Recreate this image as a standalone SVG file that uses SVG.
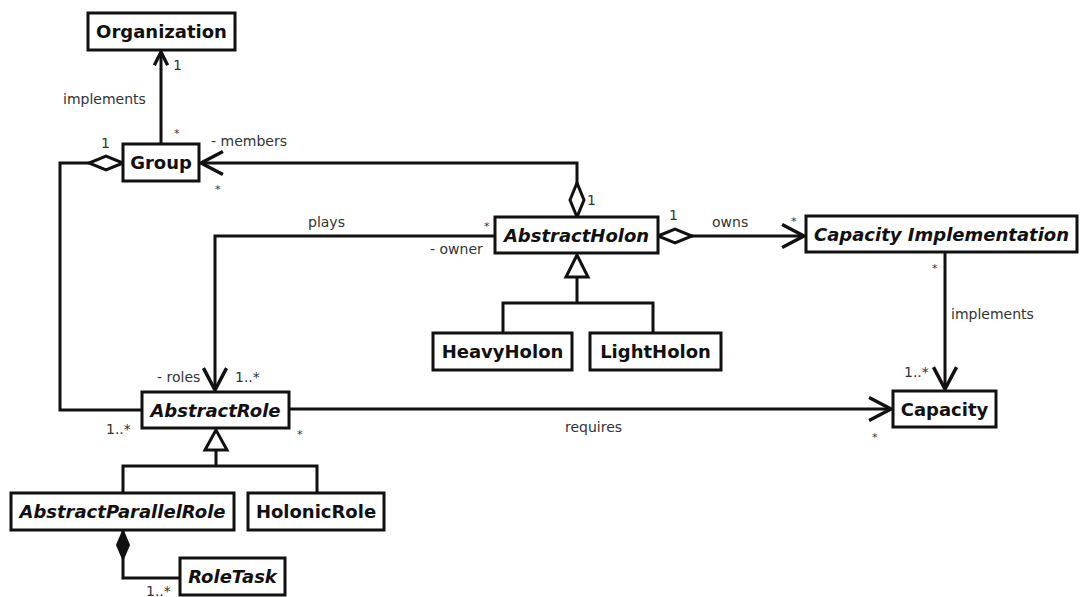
<svg xmlns="http://www.w3.org/2000/svg" width="1081" height="597" viewBox="0 0 1081 597">
<style>
.box{fill:#fff;stroke:#111;stroke-width:3}
.nm{font-family:"DejaVu Sans",sans-serif;font-size:18px;font-weight:bold;fill:#111;text-anchor:middle}
.it{font-style:italic}
.ln{fill:none;stroke:#111;stroke-width:3}
.lb{font-family:"DejaVu Sans",sans-serif;font-size:14px;fill:#333}
.st{font-family:"DejaVu Sans",sans-serif;font-size:11px;fill:#333}
.gen{fill:#fff;stroke:#111;stroke-width:3}
</style>
<defs>
<marker id="arr" markerUnits="userSpaceOnUse" markerWidth="30" markerHeight="30" refX="0" refY="0" viewBox="-22 -12 26 24" orient="auto" overflow="visible">
<path d="M-19,-10 L0,0 L-19,10" fill="none" stroke="#111" stroke-width="3"/>
</marker>
<marker id="arrs" markerUnits="userSpaceOnUse" markerWidth="20" markerHeight="20" refX="0" refY="0" viewBox="-14 -8 18 16" orient="auto" overflow="visible">
<path d="M-12,-6 L0,0 L-12,6" fill="none" stroke="#111" stroke-width="3"/>
</marker>
<marker id="dia" markerUnits="userSpaceOnUse" markerWidth="40" markerHeight="20" refX="0" refY="0" viewBox="-2 -10 40 20" orient="auto" overflow="visible">
<path d="M0,0 L17,-7 L34,0 L17,7 Z" fill="#fff" stroke="#111" stroke-width="3"/>
</marker>
<marker id="fdia" markerUnits="userSpaceOnUse" markerWidth="34" markerHeight="20" refX="0" refY="0" viewBox="-2 -10 34 20" orient="auto" overflow="visible">
<path d="M0,0 L14,-6 L28,0 L14,6 Z" fill="#111" stroke="#111" stroke-width="2"/>
</marker>
</defs>
<rect width="1081" height="597" fill="#fff"/>
<g id="connectors">
<path class="ln" d="M161,144 L161,52" marker-end="url(#arrs)"/>
<path class="ln" d="M123,163 L60,163 L60,410 L142,410" marker-start="url(#dia)"/>
<path class="ln" d="M577,217 L577,163 L201,163" marker-start="url(#dia)" marker-end="url(#arr)"/>
<path class="ln" d="M495,236 L215,236 L215,390" marker-end="url(#arr)"/>
<path class="ln" d="M658,236 L804,236" marker-start="url(#dia)" marker-end="url(#arr)"/>
<path class="ln" d="M945,252 L945,389" marker-end="url(#arr)"/>
<path class="ln" d="M289,409 L891,409" marker-end="url(#arr)"/>
<path class="ln" d="M577,277 L577,303 M503,333 L503,303 L653,303 L653,333"/>
<polygon class="gen" points="577,255 566,277 588,277"/>
<path class="ln" d="M216,450 L216,466 M123,493 L123,466 L317,466 L317,493"/>
<polygon class="gen" points="216,430 205,450 227,450"/>
<path class="ln" d="M123,531 L123,578 L180,578" marker-start="url(#fdia)"/>
<text class="lb" x="173" y="70">1</text>
<text class="st" x="174" y="137">*</text>
<text class="lb" x="63" y="104">implements</text>
<text class="lb" x="101" y="148">1</text>
<text class="lb" x="211" y="146">- members</text>
<text class="st" x="215" y="193">*</text>
<text class="lb" x="308" y="227">plays</text>
<text class="st" x="484" y="230">*</text>
<text class="lb" x="430" y="254">- owner</text>
<text class="lb" x="587" y="205">1</text>
<text class="lb" x="669" y="220">1</text>
<text class="lb" x="712" y="227">owns</text>
<text class="st" x="791" y="225">*</text>
<text class="st" x="932" y="272">*</text>
<text class="lb" x="951" y="319">implements</text>
<text class="lb" x="904" y="377">1..*</text>
<text class="st" x="872" y="441">*</text>
<text class="lb" x="565" y="432">requires</text>
<text class="lb" x="157" y="382">- roles</text>
<text class="lb" x="235" y="382">1..*</text>
<text class="lb" x="106" y="434">1..*</text>
<text class="st" x="297" y="438">*</text>
<text class="lb" x="146" y="596">1..*</text>
</g>
<g id="organization"><rect class="box" x="88" y="13" width="147" height="37"/><text class="nm" x="161.5" y="38">Organization</text></g>
<g id="group"><rect class="box" x="123" y="144" width="76" height="37"/><text class="nm" x="161" y="169">Group</text></g>
<g id="abstractholon"><rect class="box" x="495" y="217" width="163" height="36"/><text class="nm it" x="576.5" y="242">AbstractHolon</text></g>
<g id="capacityimplementation"><rect class="box" x="806" y="216" width="271" height="36"/><text class="nm it" x="941.5" y="241">Capacity Implementation</text></g>
<g id="heavyholon"><rect class="box" x="433" y="333" width="139" height="37"/><text class="nm" x="502.5" y="358">HeavyHolon</text></g>
<g id="lightholon"><rect class="box" x="590" y="333" width="131" height="37"/><text class="nm" x="655.5" y="358">LightHolon</text></g>
<g id="abstractrole"><rect class="box" x="142" y="392" width="147" height="36"/><text class="nm it" x="215.5" y="417">AbstractRole</text></g>
<g id="capacity"><rect class="box" x="893" y="391" width="103" height="36"/><text class="nm" x="944.5" y="416">Capacity</text></g>
<g id="abstractparallelrole"><rect class="box" x="11" y="493" width="223" height="37"/><text class="nm it" x="122.5" y="518">AbstractParallelRole</text></g>
<g id="holonicrole"><rect class="box" x="248" y="493" width="136" height="37"/><text class="nm" x="316" y="518">HolonicRole</text></g>
<g id="roletask"><rect class="box" x="180" y="558" width="105" height="37"/><text class="nm it" x="232.5" y="583">RoleTask</text></g>
</svg>
